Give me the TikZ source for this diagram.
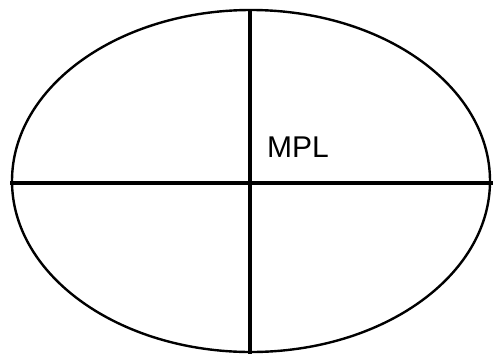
\documentclass[tikz,border=0pt]{standalone}
\usepackage{fontspec}
\setmainfont{Liberation Sans}
\begin{document}
\begin{tikzpicture}[x=1pt,y=-1pt]
        \useasboundingbox (0,0) rectangle (493,354);

        % 椭圆
        \draw[line width=2.4pt] (251,181) ellipse [x radius=239, y radius=171];

        % 十字线
        \coordinate (top) at (250,10);
        \coordinate (bottom) at (250,354);
        \coordinate (left) at (10,183);
        \coordinate (right) at (493,183);
        \draw[line width=3.4pt] (top) -- (bottom);
        \draw[line width=3.4pt] (left) -- (right);

        \node (mpl) at (298,147) {\fontsize{30}{30}\selectfont MPL};
    \end{tikzpicture}
\end{document}
